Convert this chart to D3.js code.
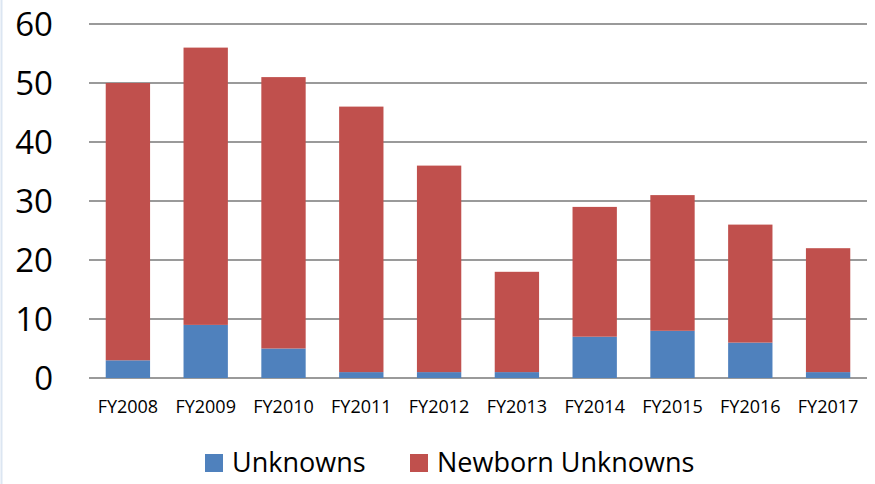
<!DOCTYPE html>
<html>
<head>
<meta charset="utf-8">
<script src="https://cdn.jsdelivr.net/npm/d3@7"></script>
<style>
  body { margin: 0; background: #fff; }
  svg { display: block; }
</style>
</head>
<body>
<div id="chart"></div>
<script>
var years = ["FY2008", "FY2009", "FY2010", "FY2011", "FY2012", "FY2013", "FY2014", "FY2015", "FY2016", "FY2017"];
var unknowns = [3, 9, 5, 1, 1, 1, 7, 8, 6, 1];
var newbornUnknowns = [47, 47, 46, 45, 35, 17, 22, 23, 20, 21];
var yTicks = [0, 10, 20, 30, 40, 50, 60];
var seriesNames = ["Unknowns", "Newborn Unknowns"];
var colors = ["#4F81BD", "#C0504D"];

var width = 875, height = 484;
var plotLeft = 89, plotRight = 867, plotTop = 24, plotBottom = 378;

var svg = d3.select("#chart").append("svg")
    .attr("width", width)
    .attr("height", height);

// faint frame line at the left edge
svg.append("line")
    .attr("x1", 1.5).attr("x2", 1.5)
    .attr("y1", 0).attr("y2", height)
    .attr("stroke", "#DCE6F2")
    .attr("stroke-width", 2);

var x = d3.scaleBand()
    .domain(years)
    .range([plotLeft, plotRight])
    .paddingInner(0.43)
    .paddingOuter(0.215);

var y = d3.scaleLinear()
    .domain([0, 60])
    .range([plotBottom, plotTop]);

// gridlines
svg.selectAll(".grid")
    .data(yTicks)
    .enter()
    .append("line")
    .attr("class", "grid")
    .attr("x1", plotLeft)
    .attr("x2", plotRight)
    .attr("y1", function (d) { return y(d); })
    .attr("y2", function (d) { return y(d); })
    .attr("stroke", "#9A9A9A")
    .attr("stroke-width", 2);

// y labels
var yAxis = svg.append("g")
    .attr("transform", "translate(" + (plotLeft - 36) + ",0)")
    .call(d3.axisLeft(y).tickValues(yTicks).tickSize(0).tickPadding(0));
yAxis.select(".domain").remove();
yAxis.selectAll("text")
    .style("font-family", "'Open Sans', sans-serif")
    .style("font-size", "33px")
    .style("fill", "#000")
    .attr("dy", "0.36em");

// stacked bars
var rows = years.map(function (yr, i) {
    return { year: yr, Unknowns: unknowns[i], "Newborn Unknowns": newbornUnknowns[i] };
});
var stack = d3.stack().keys(seriesNames)(rows);

svg.selectAll(".series")
    .data(stack)
    .enter()
    .append("g")
    .attr("class", "series")
    .attr("fill", function (d, i) { return colors[i]; })
    .selectAll("rect")
    .data(function (d) { return d; })
    .enter()
    .append("rect")
    .attr("x", function (d) { return x(d.data.year); })
    .attr("width", x.bandwidth())
    .attr("y", function (d) { return y(d[1]); })
    .attr("height", function (d) { return y(d[0]) - y(d[1]); });

// x labels
var xAxis = svg.append("g")
    .attr("transform", "translate(0," + (plotBottom + 22) + ")")
    .call(d3.axisBottom(x).tickSize(0).tickPadding(0));
xAxis.select(".domain").remove();
xAxis.selectAll("text")
    .style("font-family", "'Open Sans', sans-serif")
    .style("font-size", "18px")
    .style("fill", "#000")
    .attr("dy", "0.71em");

// legend
var legendX = [205, 410];
var legend = svg.selectAll(".legend")
    .data(seriesNames)
    .enter()
    .append("g")
    .attr("class", "legend")
    .attr("transform", function (d, i) { return "translate(" + legendX[i] + ",454)"; });
legend.append("rect")
    .attr("width", 18)
    .attr("height", 18)
    .attr("fill", function (d, i) { return colors[i]; });
legend.append("text")
    .attr("x", 27)
    .attr("y", 18)
    .style("font-family", "'Open Sans', sans-serif")
    .style("font-size", "27px")
    .style("fill", "#000")
    .text(function (d) { return d; });
</script>
</body>
</html>
